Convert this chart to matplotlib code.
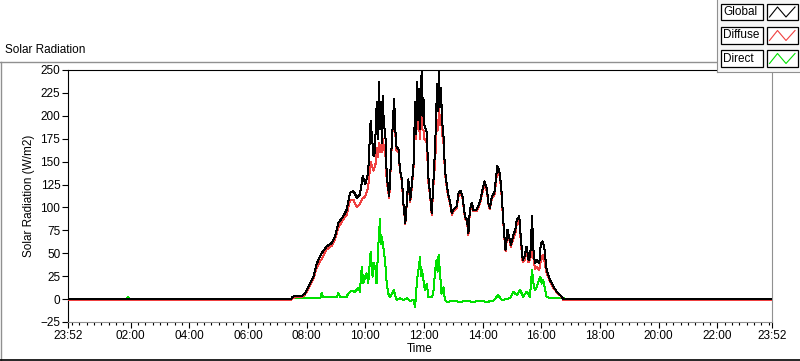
import matplotlib
matplotlib.use("Agg")
import matplotlib.pyplot as plt
from matplotlib.patches import Rectangle
from matplotlib.ticker import FixedLocator

plt.rcParams["font.family"] = ["Liberation Sans", "DejaVu Sans"]

# time in minutes since midnight, chart runs from 23:52 to 23:52
t_gd = [-8, 449, 450, 460, 470, 477, 487, 494, 501, 511, 521, 531, 538, 545, 555, 562,
        569, 576, 583, 589, 595, 600, 606, 611, 617, 620, 622, 624, 626, 628, 630, 632,
        634, 636, 638, 641, 644, 649, 654, 659, 663, 668, 671, 675, 678, 682, 685, 688,
        692, 695, 699, 702, 704, 706, 708, 710, 712, 714, 716, 717, 719, 721, 726, 729,
        733, 736, 739, 743, 745, 747, 749, 751, 753, 755, 757, 760, 763, 767, 770, 774,
        777, 780, 787, 791, 795, 799, 804, 808, 811, 814, 818, 821, 828, 831, 835, 840,
        844, 849, 852, 855, 859, 864, 868, 870, 874, 878, 881, 884, 887, 891, 894, 898,
        902, 907, 910, 915, 918, 922, 926, 930, 934, 937, 939, 941, 944, 947, 951, 956,
        958, 960, 963, 967, 970, 973, 978, 985, 992, 999, 1005, 1432]
glob = [0, 0, 2.6, 3.3, 3.3, 6.2, 17.2, 24.5, 39.1, 50.1, 57.4, 61.1, 68.4, 83.0, 90.3, 97.6,
        115.9, 117.8, 110.4, 114.1, 134.2, 125.1, 137.9, 194.5, 156.2, 159.8, 200, 214.7, 175, 236.6, 185, 215,
        170, 222.0, 190, 181.8, 134.2, 112.3, 167.1, 218.3, 167.1, 163.5, 141.5, 130.6, 105.0, 83.0, 105.0, 130.6,
        108.6, 123.2, 148.8, 214.7, 180, 236.6, 195, 229.3, 185, 240, 247.6, 200, 220, 190, 181.8, 134.2,
        112.3, 94.0, 123.2, 167.1, 200, 235, 205, 247.6, 210, 230, 195, 178.1, 141.5, 123.2, 114.1, 105.0,
        94.0, 97.6, 101.3, 115.9, 117.8, 112.3, 90.3, 86.7, 72.0, 97.6, 105.0, 97.6, 97.6, 101.3, 106.8, 119.6,
        128.7, 119.6, 105.0, 99.5, 112.3, 115.9, 134.2, 145.2, 141.5, 123.2, 97.6, 72.0, 53.8, 75.7, 68.4, 59.2,
        68.4, 75.7, 86.7, 90.3, 68.4, 42.8, 46.4, 57.4, 42.8, 46.4, 60, 90.3, 53.8, 39.1, 42.8, 39.1,
        55, 61.1, 62.9, 53.8, 35.5, 28.2, 20.8, 13.5, 8.0, 4.4, 0, 0]
diff = [-1, -1, 1.5, 2, 2, 5, 15, 22, 35, 44, 54, 58, 65, 78, 87, 92,
        108, 108, 100, 104, 110, 112, 122, 150, 140, 145, 150, 165, 155, 170, 160, 168,
        160, 175, 165, 160, 128, 110, 165, 215, 163, 160, 140, 128, 103, 82, 104, 128,
        106, 120, 145, 205, 175, 215, 185, 190, 175, 195, 200, 185, 185, 175, 170, 128,
        110, 92, 120, 150, 175, 195, 185, 210, 190, 200, 182, 170, 138, 120, 112, 103,
        92, 96, 99, 113, 116, 110, 88, 85, 70, 95, 103, 96, 96, 99, 105, 117,
        126, 117, 103, 98, 110, 113, 130, 140, 137, 120, 95, 70, 52, 73, 66, 57,
        65, 72, 82, 85, 64, 40, 43, 52, 40, 43, 48, 60, 45, 33, 35, 32,
        40, 42, 48, 40, 30, 26, 19, 12, 7, 4, -1, -1]

t_dir = [-8, 112, 115, 118, 449, 450, 494, 508, 511, 514, 542, 545, 548, 562, 565, 572,
         579, 586, 589, 593, 596, 600, 603, 606, 611, 615, 618, 621, 623, 627, 630, 632,
         634, 637, 641, 644, 647, 651, 658, 664, 671, 678, 685, 692, 699, 702, 705, 707,
         709, 712, 714, 716, 719, 722, 726, 729, 736, 739, 743, 746, 748, 750, 753, 756,
         760, 763, 767, 780, 794, 808, 821, 835, 848, 862, 869, 872, 879, 889, 896, 903,
         910, 917, 923, 930, 937, 941, 944, 947, 951, 958, 961, 964, 968, 971, 978, 1005,
         1010, 1432]
direct = [0, 0, 2, 0, 0, 1, 1, 1, 7, 2, 2, 7, 2.5, 2.5, 6, 9,
          8, 12, 8, 35.5, 17, 24.5, 28, 17, 52, 24.5, 39, 32, 17, 61, 87, 60,
          68, 57, 39, 17, 6, 2, 10, -1, 1, -1, 1, -2, -1, -9, 13.5, 25,
          32, 46, 25, 32, 21, 10, 17, 2.5, 2, 5, 32, 43, 30, 48, 28, 6,
          13, -1, -3, -2, -3, -2, -3, -2, -3, -2, 2.5, 4.4, -1, 0, 1, 8,
          4.4, 10, 2.5, 8, 2.5, 32, 17, 10, 13.5, 24.5, 17, 21, 10, 2.5, 1, 1,
          0, 0]

x_ticks = [-8, 120, 240, 360, 480, 600, 720, 840, 960, 1080, 1200, 1320, 1432]
x_labels = ["23:52", "02:00", "04:00", "06:00", "08:00", "10:00", "12:00",
            "14:00", "16:00", "18:00", "20:00", "22:00", "23:52"]
x_minor = list(range(0, 1432, 15))
y_ticks = [-25, 0, 25, 50, 75, 100, 125, 150, 175, 200, 225, 250]

names = ["Global", "Diffuse", "Direct"]
colors = ["#000000", "#f04040", "#00e000"]

W, H = 800, 361
fig = plt.figure(figsize=(W / 100, H / 100), dpi=100)
fig.patch.set_facecolor("white")

# background layer in pixel units for the frame and title
bg = fig.add_axes([0, 0, 1, 1], zorder=0)
bg.set_xlim(0, W)
bg.set_ylim(H, 0)
bg.axis("off")
bg.plot([0, 717], [62, 62], color="#909090", lw=1)
bg.plot([1, 1], [62, 360], color="#909090", lw=1)
bg.plot([0, 800], [359.5, 359.5], color="black", lw=1.2)
bg.text(5, 50, "Solar Radiation", fontsize=8.5, va="center", ha="left")

ax = fig.add_axes([68 / W, 1 - 322 / H, (772 - 68) / W, (322 - 70) / H], zorder=1)
ax.plot(t_dir, direct, color=colors[2], lw=0.72, zorder=2, antialiased=False)
ax.plot(t_gd, diff, color=colors[1], lw=0.72, zorder=3, antialiased=False)
ax.plot(t_gd, glob, color=colors[0], lw=0.72, zorder=4, antialiased=False)

ax.set_xlim(-8, 1432)
ax.set_ylim(-25, 250)
ax.xaxis.set_major_locator(FixedLocator(x_ticks))
ax.set_xticklabels(x_labels)
ax.xaxis.set_minor_locator(FixedLocator(x_minor))
ax.set_yticks(y_ticks)
ax.tick_params(axis="both", which="major", labelsize=8.5, length=4, width=0.8, pad=1.5)
ax.tick_params(axis="x", which="minor", length=2.5, width=0.8)
for s in ["left", "top"]:
    ax.spines[s].set_color("black")
for s in ["right", "bottom"]:
    ax.spines[s].set_color("#909090")
ax.set_ylabel("Solar Radiation (W/m2)", fontsize=8.5, labelpad=4)
ax.set_xlabel("Time", fontsize=8.5, labelpad=1)

# legend panel at top right
lg = fig.add_axes([717 / W, 1 - 72 / H, 83 / W, 72 / H], zorder=5)
lg.set_xlim(717, 800)
lg.set_ylim(72, 0)
lg.set_facecolor("#f6f6f6")
lg.set_xticks([])
lg.set_yticks([])
for s in ["top", "right"]:
    lg.spines[s].set_visible(False)
for s in ["left", "bottom"]:
    lg.spines[s].set_color("#909090")
tops = [3.5, 27, 50]
for name, col, y0 in zip(names, colors, tops):
    lg.add_patch(Rectangle((721, y0), 42, 16.5, facecolor="white", edgecolor="black", lw=0.9))
    lg.text(723.5, y0 + 8.5, name, fontsize=8.5, va="center", ha="left")
    lg.add_patch(Rectangle((767, y0), 31, 16.5, facecolor="white", edgecolor="black", lw=0.9))
    lg.plot([769.5, 777.5, 786, 795], [y0 + 13.5, y0 + 3.5, y0 + 13.5, y0 + 3.5], color=col, lw=0.8)

fig.savefig("out.png", dpi=100)
